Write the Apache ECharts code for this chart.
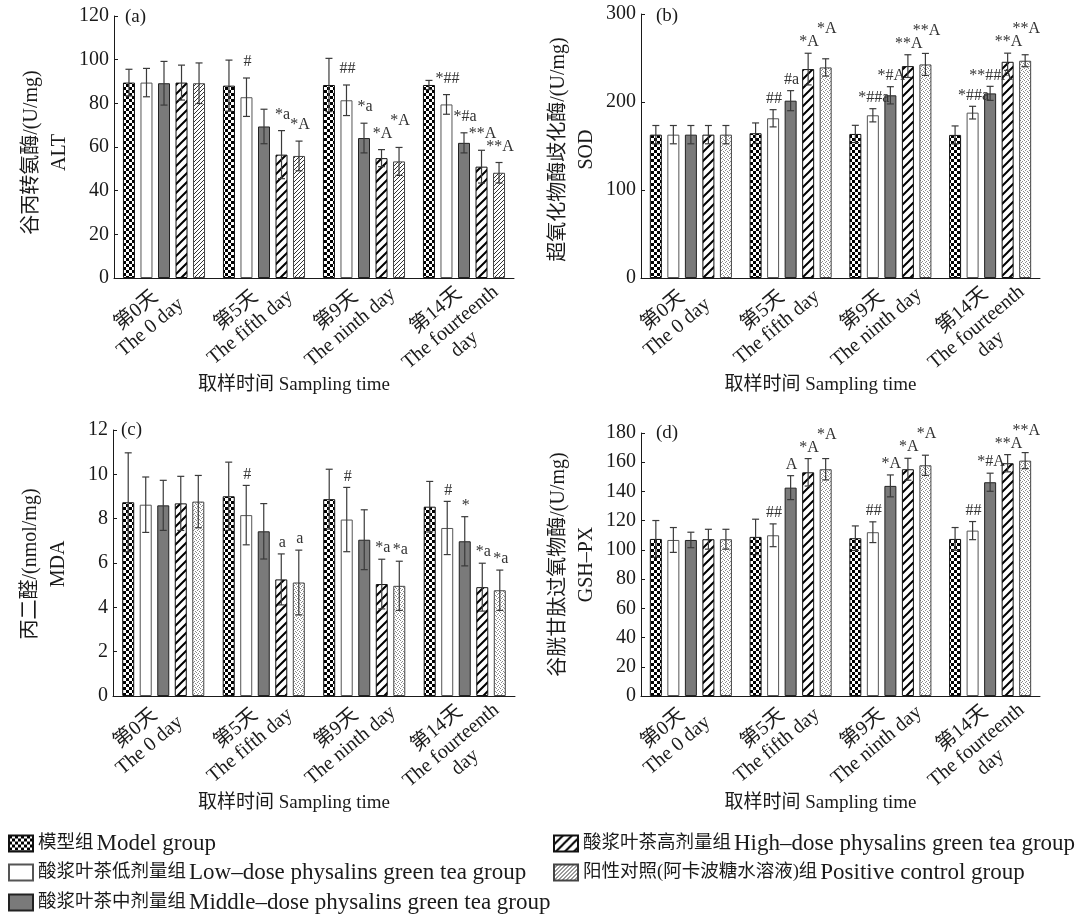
<!DOCTYPE html>
<html><head><meta charset="utf-8">
<script src="https://cdn.jsdelivr.net/npm/echarts@6.0.0/dist/echarts.min.js"></script>
<style>html,body{margin:0;padding:0;background:#fff}#c{width:1087px;height:916px}</style>
</head><body><div id="c"></div>
<script>
// ---------- data ----------
const categories = ['第0天\nThe 0 day', '第5天\nThe fifth day', '第9天\nThe ninth day', '第14天\nThe fourteenth\nday'];
const seriesNames = ['模型组 Model group', '酸浆叶茶低剂量组 Low–dose physalins green tea group', '酸浆叶茶中剂量组 Middle–dose physalins green tea group', '酸浆叶茶高剂量组 High–dose physalins green tea group', '阳性对照(阿卡波糖水溶液)组 Positive control group'];

// (a) ALT
const altModel = [89.5, 88.1, 88.4, 88.4];
const altModelErr = [6.1, 11.7, 12.2, 2.1];
const altLow = [89.5, 82.8, 81.4, 79.5];
const altLowErr = [6.5, 8.8, 7.0, 4.5];
const altMid = [89.2, 69.4, 64.1, 61.9];
const altMidErr = [10.0, 7.9, 6.8, 4.6];
const altHigh = [89.5, 56.5, 54.9, 51.0];
const altHighErr = [8.0, 11.0, 3.9, 7.5];
const altPos = [89.2, 55.9, 53.4, 48.2];
const altPosErr = [9.3, 6.8, 6.4, 4.7];
const altSig = [['', '', '', ''], ['', '#', '##', '*##'], ['', '', '*a', '*#a'], ['', '*a', '*A', '**A'], ['', '*A', '*A', '**A']];

// (b) SOD
const sodModel = [162.9, 164.5, 163.7, 162.6];
const sodModelErr = [10.4, 11.7, 9.8, 10.2];
const sodLow = [162.9, 181.5, 184.9, 187.9];
const sodLowErr = [10.4, 9.8, 7.5, 7.2];
const sodMid = [162.9, 201.5, 207.6, 209.8];
const sodMidErr = [10.4, 11.4, 9.8, 8.0];
const sodHigh = [162.9, 237.4, 240.8, 245.7];
const sodHighErr = [10.4, 18.0, 12.9, 9.8];
const sodPos = [162.9, 239.3, 242.7, 246.9];
const sodPosErr = [10.4, 9.8, 12.5, 6.8];
const sodSig = [['', '', '', ''], ['', '##', '*##a', '*##a'], ['', '#a', '*#A', '**##A'], ['', '*A', '**A', '**A'], ['', '*A', '**A', '**A']];

// (c) MDA
const mdaModel = [8.74, 9.01, 8.88, 8.54];
const mdaModelErr = [2.23, 1.54, 1.35, 1.14];
const mdaLow = [8.63, 8.16, 7.96, 7.58];
const mdaLowErr = [1.25, 1.34, 1.45, 1.20];
const mdaMid = [8.60, 7.43, 7.05, 6.98];
const mdaMidErr = [1.13, 1.25, 1.35, 1.11];
const mdaHigh = [8.69, 5.26, 5.05, 4.91];
const mdaHighErr = [1.22, 1.15, 1.12, 1.08];
const mdaPos = [8.77, 5.12, 4.97, 4.77];
const mdaPosErr = [1.18, 1.46, 1.11, 0.91];
const mdaSig = [['', '', '', ''], ['', '#', '#', '#'], ['', '', '', '*'], ['', 'a', '*a', '*a'], ['', 'a', '*a', '*a']];

// (d) GSH-PX
const gshModel = [107.5, 108.9, 108.0, 107.5];
const gshModelErr = [12.6, 12.1, 8.4, 7.8];
const gshLow = [106.8, 110.0, 112.1, 113.2];
const gshLowErr = [8.5, 7.8, 7.1, 6.2];
const gshMid = [106.8, 142.6, 143.8, 146.3];
const gshMidErr = [5.3, 8.2, 7.5, 6.2];
const gshHigh = [107.3, 153.1, 155.2, 159.3];
const gshHighErr = [6.8, 9.4, 7.5, 5.9];
const gshPos = [107.3, 155.2, 157.9, 161.1];
const gshPosErr = [6.8, 7.3, 6.9, 5.5];
const gshSig = [['', '', '', ''], ['', '##', '##', '##'], ['', 'A', '*A', '*#A'], ['', '*A', '*A', '**A'], ['', '*A', '*A', '**A']];

// ---------- styles ----------
const FONT = '"Liberation Serif","Noto Sans CJK SC",serif';
const TXT = '#1a1a1a';
const BAR_W = 12, BAR_GAP = 0.46;

function makePattern(size, draw) {
  const c = document.createElement('canvas');
  c.width = size; c.height = size;
  const x = c.getContext('2d');
  x.fillStyle = '#fff'; x.fillRect(0, 0, size, size);
  draw(x, size);
  return { image: c, repeat: 'repeat' };
}
const checker = makePattern(6, (x) => { x.fillStyle = '#000'; x.fillRect(0, 0, 3, 3); x.fillRect(3, 3, 3, 3); });
function diag(x, s, w, col) {
  x.strokeStyle = col; x.lineWidth = w; x.beginPath();
  x.moveTo(-1, s + 1); x.lineTo(s + 1, -1);
  x.moveTo(-2, 2); x.lineTo(2, -2);
  x.moveTo(s - 2, s + 2); x.lineTo(s + 2, s - 2);
  x.stroke();
}
const hatchWide = makePattern(9, (x, s) => diag(x, s, 2, '#000'));
const hatchFine = makePattern(4, (x, s) => diag(x, s, 1, '#333'));
const stipple = makePattern(4, (x) => {
  x.fillStyle = '#8a8a8a';
  x.fillRect(0, 0, 1, 1); x.fillRect(2, 1, 1, 1); x.fillRect(1, 2, 1, 1); x.fillRect(3, 3, 1, 1);
});

const panels = [
  { vals: [altModel, altLow, altMid, altHigh, altPos], errs: [altModelErr, altLowErr, altMidErr, altHighErr, altPosErr], sig: altSig,
    yMax: 120, yInt: 20, yName: '谷丙转氨酶/(U/mg)\nALT', tag: '(a)', pos: hatchFine, namePad: 11, sigGap: 8,
    grid: { left: 114, top: 16, width: 400, height: 262 }, tagXY: [125, 8] },
  { vals: [sodModel, sodLow, sodMid, sodHigh, sodPos], errs: [sodModelErr, sodLowErr, sodMidErr, sodHighErr, sodPosErr], sig: sodSig,
    yMax: 300, yInt: 100, yName: '超氧化物酶歧化酶/(U/mg)\nSOD', tag: '(b)', pos: stipple, namePad: 7, sigGap: 3,
    grid: { left: 641, top: 14, width: 399, height: 264 }, tagXY: [656, 7] },
  { vals: [mdaModel, mdaLow, mdaMid, mdaHigh, mdaPos], errs: [mdaModelErr, mdaLowErr, mdaMidErr, mdaHighErr, mdaPosErr], sig: mdaSig,
    yMax: 12, yInt: 2, yName: '丙二醛/(nmol/mg)\nMDA', tag: '(c)', pos: stipple, namePad: 2, sigGap: 3,
    grid: { left: 113, top: 430, width: 402, height: 266 }, tagXY: [121, 421] },
  { vals: [gshModel, gshLow, gshMid, gshHigh, gshPos], errs: [gshModelErr, gshLowErr, gshMidErr, gshHighErr, gshPosErr], sig: gshSig,
    yMax: 180, yInt: 20, yName: '谷胱甘肽过氧物酶/(U/mg)\nGSH–PX', tag: '(d)', pos: stipple, namePad: 0, sigGap: 3,
    grid: { left: 641, top: 433, width: 399, height: 263 }, tagXY: [656, 424] }
];

function textW(t) { let w = 0; for (const ch of t) w += (ch === 'A' ? 11.6 : ch === 'a' ? 7.1 : 8); return w; }

const grids = [], xAxes = [], yAxes = [], series = [], graphics = [];
panels.forEach((p, i) => {
  grids.push(p.grid);
  xAxes.push({
    gridIndex: i, type: 'category', data: categories,
    axisLine: { lineStyle: { color: TXT, width: 1 } }, axisTick: { show: false },
    axisLabel: {
      interval: 0, rotate: 40, align: 'center', verticalAlign: 'top', margin: -5,
      padding: [0, 91, 0, 0], hideOverlap: false,
      formatter: (v) => v.split('\n').map(l => '{c|' + l + '}').join('\n'),
      rich: { c: { align: 'center', fontSize: 20, fontFamily: FONT, color: TXT, lineHeight: 22 } }
    },
    name: '取样时间 Sampling time', nameLocation: 'middle', nameGap: 98, nameMoveOverlap: false,
    nameTextStyle: { fontSize: 19, fontFamily: FONT, color: TXT, padding: [0, 40, 0, 0] }
  });
  yAxes.push({
    gridIndex: i, type: 'value', min: 0, max: p.yMax, interval: p.yInt,
    splitLine: { show: false },
    axisLine: { show: true, lineStyle: { color: TXT, width: 1 } },
    axisTick: { show: true, inside: true, length: 4, lineStyle: { color: TXT } },
    axisLabel: { fontSize: 20, fontFamily: FONT, color: TXT, margin: 5 },
    name: p.yName, nameLocation: 'middle', nameRotate: 90, nameGap: 40, nameMoveOverlap: false,
    nameTextStyle: { fontSize: 20, fontFamily: FONT, color: TXT, lineHeight: 28, align: 'center', padding: [0, p.namePad, 0, 0] }
  });
  const fills = [checker, '#fff', '#7a7a7a', hatchWide, p.pos];
  const borders = ['#111', '#555', '#222', '#111', '#444'];
  p.vals.forEach((arr, s) => {
    series.push({
      type: 'bar', name: seriesNames[s], xAxisIndex: i, yAxisIndex: i, data: arr,
      barWidth: BAR_W, barGap: (BAR_GAP * 100) + '%',
      itemStyle: { color: fills[s], borderColor: borders[s], borderWidth: 1 },
      emphasis: { disabled: true }, animation: false
    });
  });
  const step = BAR_W * (1 + BAR_GAP);
  // label baseline (pixel), staggered upward when it would collide with its left neighbour
  function labelY(api, s, g) {
    const base = api.coord([g, p.vals[s][g] + p.errs[s][g]])[1] - p.sigGap;
    if (s > 0 && p.sig[s - 1][g]) {
      const half = (textW(p.sig[s][g]) + textW(p.sig[s - 1][g])) / 2;
      if (half > step) {
        const prev = labelY(api, s - 1, g);
        if (Math.abs(base - prev) < 11) return Math.min(base, prev - 13);
      }
    }
    return base;
  }
  const errData = [];
  p.vals.forEach((arr, s) => arr.forEach((v, g) => errData.push([g, s, v, p.errs[s][g]])));
  series.push({
    type: 'custom', name: 'err' + i, xAxisIndex: i, yAxisIndex: i, data: errData, z: 5,
    encode: { x: 0, y: 2 }, animation: false, clip: false, silent: true,
    renderItem: (params, api) => {
      const g = api.value(0), s = api.value(1), v = api.value(2), e = api.value(3);
      const cx = api.coord([g, v])[0] + (s - 2) * step;
      const yT = api.coord([g, v + e])[1], yB = api.coord([g, v - e])[1];
      const cap = 3.5;
      const st = { stroke: '#3a3a3a', lineWidth: 1.2 };
      const ch = [
        { type: 'line', shape: { x1: cx, y1: yT, x2: cx, y2: yB }, style: st },
        { type: 'line', shape: { x1: cx - cap, y1: yT, x2: cx + cap, y2: yT }, style: st },
        { type: 'line', shape: { x1: cx - cap, y1: yB, x2: cx + cap, y2: yB }, style: st }
      ];
      const t = p.sig[s][g];
      if (t) ch.push({ type: 'text', x: cx + 1, y: labelY(api, s, g), style: { text: t, align: 'center', verticalAlign: 'bottom', font: '16px ' + FONT, fill: '#333' } });
      return { type: 'group', children: ch };
    }
  });
  graphics.push({ type: 'text', left: p.tagXY[0], top: p.tagXY[1], style: { text: p.tag, font: '19px ' + FONT, fill: TXT } });
});

const legendBase = {
  orient: 'vertical', itemWidth: 24, itemHeight: 16, icon: 'rect', padding: 0,
  selectedMode: false,
  formatter: (n) => { const k = n.indexOf(' '); return '{cn|' + n.slice(0, k) + '} {en|' + n.slice(k + 1) + '}'; },
  textStyle: {
    fontFamily: FONT, color: TXT,
    rich: {
      cn: { fontSize: 18.5, fontFamily: FONT, color: TXT, lineHeight: 22 },
      en: { fontSize: 23, fontFamily: FONT, color: TXT, lineHeight: 22 }
    }
  }
};
const legendSpots = [[8, 832], [8, 861], [8, 891], [553, 832], [553, 861]];
const legends = seriesNames.map((n, k) => Object.assign({}, legendBase, { left: legendSpots[k][0], top: legendSpots[k][1], data: [n] }));

const chart = echarts.init(document.getElementById('c'), null, { renderer: 'canvas', width: 1087, height: 916 });
chart.setOption({
  backgroundColor: '#fff',
  animation: false,
  grid: grids, xAxis: xAxes, yAxis: yAxes, series: series,
  graphic: graphics,
  legend: legends
});
</script>
</body></html>
